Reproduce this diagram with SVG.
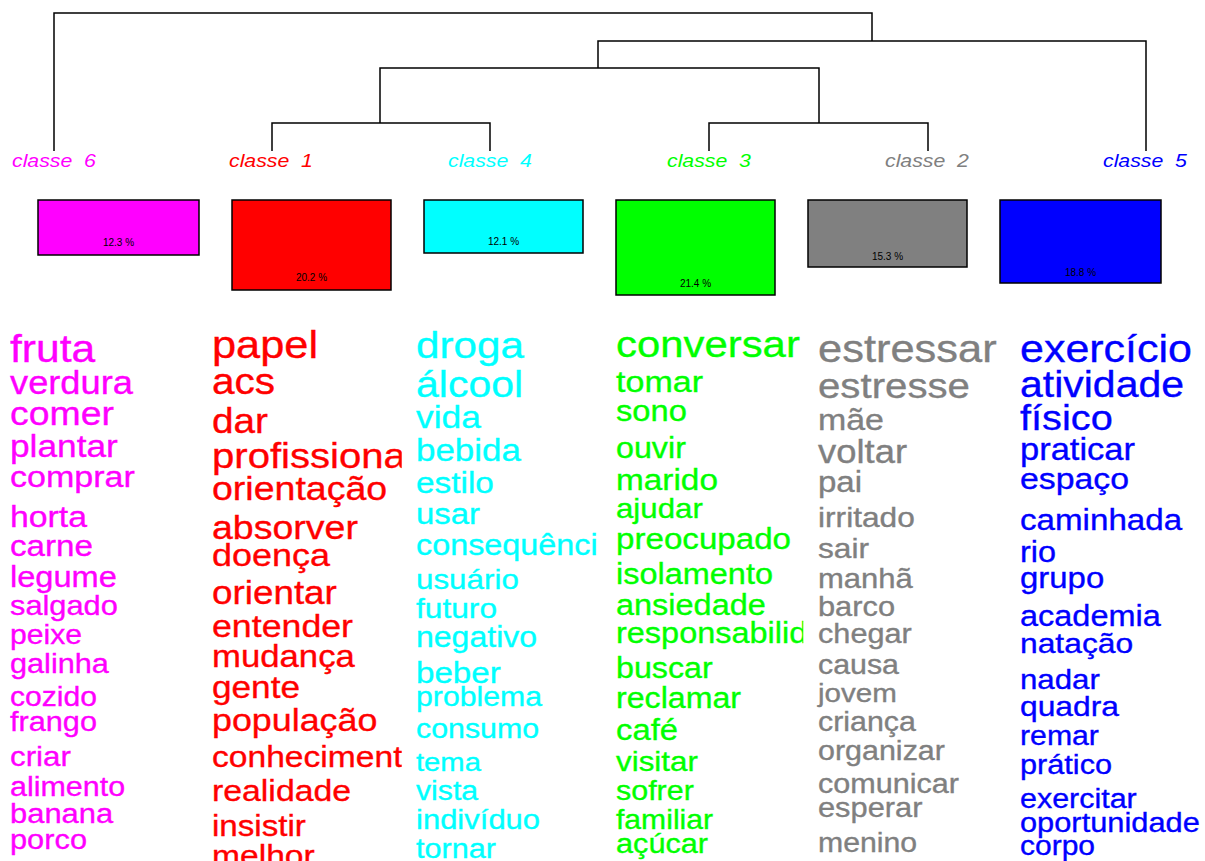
<svg xmlns="http://www.w3.org/2000/svg" width="1205" height="861" viewBox="0 0 1205 861">
<style>
text{font-family:"Liberation Sans",Arial,sans-serif}
.lbl{font-style:italic;font-size:19px}
.pct{font-size:10px;fill:#000;text-anchor:middle}
.box{stroke:#000;stroke-width:1.5}
.edge{fill:none;stroke:#000;stroke-width:1.5}
.w{stroke-width:0.35}
.c6{fill:#FF00FF}.c1{fill:#FF0000}.c4{fill:#00FFFF}.c3{fill:#00FF00}.c2{fill:#808080}.c5{fill:#0000FF}
.w.c6{stroke:#FF00FF}.w.c1{stroke:#FF0000}.w.c4{stroke:#00FFFF}.w.c3{stroke:#00FF00}.w.c2{stroke:#808080}.w.c5{stroke:#0000FF}
</style>
<defs>
<clipPath id="k1"><rect x="0" y="300" width="200.8" height="561"/></clipPath>
<clipPath id="k2"><rect x="200.8" y="300" width="200.9" height="561"/></clipPath>
<clipPath id="k3"><rect x="401.7" y="300" width="200.8" height="561"/></clipPath>
<clipPath id="k4"><rect x="602.5" y="300" width="200.8" height="561"/></clipPath>
<clipPath id="k5"><rect x="803.3" y="300" width="200.9" height="561"/></clipPath>
<clipPath id="k6"><rect x="1004.2" y="300" width="200.8" height="561"/></clipPath>
</defs>
<rect width="1205" height="861" fill="#fff"/>
<g id="connectors">
<path class="edge" d="M54,151V13H872V41M598,68V41H1146V151M380,123V68H819V123M272,151V123H490V151M709,151V123H928V151"/>
</g>
<g id="classe6">
<g transform="translate(12 0) scale(1.12 1)"><text class="lbl c6" x="0" y="167" xml:space="preserve">classe  6</text></g>
<rect class="box c6" x="38" y="200" width="161" height="55"/>
<text class="pct" x="118.5" y="246">12.3 %</text>
<g clip-path="url(#k1)"><g transform="translate(10 0) scale(1.12 1)" class="w c6">
<text x="0" y="362" font-size="38">fruta</text>
<text x="0" y="394" font-size="32.4">verdura</text>
<text x="0" y="425" font-size="33.4">comer</text>
<text x="0" y="457" font-size="31.5">plantar</text>
<text x="0" y="487" font-size="30.4">comprar</text>
<text x="0" y="527" font-size="30.2">horta</text>
<text x="0" y="556" font-size="29.6">carne</text>
<text x="0" y="587" font-size="29.1">legume</text>
<text x="0" y="615" font-size="27.5">salgado</text>
<text x="0" y="644" font-size="26.9">peixe</text>
<text x="0" y="673" font-size="27.4">galinha</text>
<text x="0" y="706" font-size="26.9">cozido</text>
<text x="0" y="731" font-size="27.4">frango</text>
<text x="0" y="766" font-size="28">criar</text>
<text x="0" y="796" font-size="27.2">alimento</text>
<text x="0" y="823" font-size="27.6">banana</text>
<text x="0" y="849" font-size="27.5">porco</text>
</g></g>
</g>
<g id="classe1">
<g transform="translate(229 0) scale(1.12 1)"><text class="lbl c1" x="0" y="167" xml:space="preserve">classe  1</text></g>
<rect class="box c1" x="232" y="200" width="159" height="90"/>
<text class="pct" x="311.5" y="281">20.2 %</text>
<g clip-path="url(#k2)"><g transform="translate(212 0) scale(1.12 1)" class="w c1">
<text x="0" y="358" font-size="38.7">papel</text>
<text x="0" y="394" font-size="36.2">acs</text>
<text x="0" y="433" font-size="34.6">dar</text>
<text x="0" y="468" font-size="35.8">profissiona</text>
<text x="0" y="500" font-size="33.5">orientação</text>
<text x="0" y="539" font-size="33.5">absorver</text>
<text x="0" y="566" font-size="32.1">doença</text>
<text x="0" y="604" font-size="32.9">orientar</text>
<text x="0" y="637" font-size="31.9">entender</text>
<text x="0" y="667" font-size="31">mudança</text>
<text x="0" y="698" font-size="31.4">gente</text>
<text x="0" y="731" font-size="32">população</text>
<text x="0" y="767" font-size="30">conheciment</text>
<text x="0" y="801" font-size="30.2">realidade</text>
<text x="0" y="836" font-size="29.6">insistir</text>
<text x="0" y="866" font-size="30">melhor</text>
</g></g>
</g>
<g id="classe4">
<g transform="translate(448 0) scale(1.12 1)"><text class="lbl c4" x="0" y="167" xml:space="preserve">classe  4</text></g>
<rect class="box c4" x="424" y="200" width="159" height="53"/>
<text class="pct" x="503.5" y="245">12.1 %</text>
<g clip-path="url(#k3)"><g transform="translate(416 0) scale(1.12 1)" class="w c4">
<text x="0" y="358" font-size="37.7">droga</text>
<text x="0" y="397" font-size="36.6">álcool</text>
<text x="0" y="428" font-size="31.6">vida</text>
<text x="0" y="461" font-size="31.2">bebida</text>
<text x="0" y="493" font-size="29.8">estilo</text>
<text x="0" y="524" font-size="29.4">usar</text>
<text x="0" y="555" font-size="28.9">consequênci</text>
<text x="0" y="589" font-size="28">usuário</text>
<text x="0" y="618" font-size="28.3">futuro</text>
<text x="0" y="647" font-size="28.6">negativo</text>
<text x="0" y="683" font-size="29.6">beber</text>
<text x="0" y="706" font-size="27">problema</text>
<text x="0" y="738" font-size="27.1">consumo</text>
<text x="0" y="771" font-size="26.1">tema</text>
<text x="0" y="800" font-size="27">vista</text>
<text x="0" y="829" font-size="27.7">indivíduo</text>
<text x="0" y="858" font-size="27.3">tornar</text>
</g></g>
</g>
<g id="classe3">
<g transform="translate(667 0) scale(1.12 1)"><text class="lbl c3" x="0" y="167" xml:space="preserve">classe  3</text></g>
<rect class="box c3" x="616" y="200" width="159" height="95"/>
<text class="pct" x="695.5" y="287">21.4 %</text>
<g clip-path="url(#k4)"><g transform="translate(616 0) scale(1.12 1)" class="w c3">
<text x="0" y="357" font-size="37.4">conversar</text>
<text x="0" y="392" font-size="30.4">tomar</text>
<text x="0" y="421" font-size="29.2">sono</text>
<text x="0" y="458" font-size="28.8">ouvir</text>
<text x="0" y="490" font-size="29.8">marido</text>
<text x="0" y="518" font-size="27.9">ajudar</text>
<text x="0" y="549" font-size="29.6">preocupado</text>
<text x="0" y="584" font-size="29">isolamento</text>
<text x="0" y="615" font-size="29">ansiedade</text>
<text x="0" y="643" font-size="29">responsabilid</text>
<text x="0" y="678" font-size="28.8">buscar</text>
<text x="0" y="708" font-size="28.7">reclamar</text>
<text x="0" y="740" font-size="29.3">café</text>
<text x="0" y="771" font-size="28">visitar</text>
<text x="0" y="800" font-size="27.2">sofrer</text>
<text x="0" y="829" font-size="26.9">familiar</text>
<text x="0" y="853" font-size="27.4">açúcar</text>
</g></g>
</g>
<g id="classe2">
<g transform="translate(885 0) scale(1.12 1)"><text class="lbl c2" x="0" y="167" xml:space="preserve">classe  2</text></g>
<rect class="box c2" x="808" y="200" width="159" height="67"/>
<text class="pct" x="887.5" y="260">15.3 %</text>
<g clip-path="url(#k5)"><g transform="translate(818 0) scale(1.12 1)" class="w c2">
<text x="0" y="362" font-size="38.8">estressar</text>
<text x="0" y="398" font-size="35.9">estresse</text>
<text x="0" y="430" font-size="30.3">mãe</text>
<text x="0" y="463" font-size="32.5">voltar</text>
<text x="0" y="492" font-size="29.5">pai</text>
<text x="0" y="527" font-size="28.3">irritado</text>
<text x="0" y="558" font-size="28.3">sair</text>
<text x="0" y="588" font-size="27.7">manhã</text>
<text x="0" y="616" font-size="27.5">barco</text>
<text x="0" y="643" font-size="27.4">chegar</text>
<text x="0" y="674" font-size="27.1">causa</text>
<text x="0" y="702" font-size="26.4">jovem</text>
<text x="0" y="731" font-size="27.1">criança</text>
<text x="0" y="760" font-size="27.2">organizar</text>
<text x="0" y="793" font-size="27.3">comunicar</text>
<text x="0" y="817" font-size="27.5">esperar</text>
<text x="0" y="852" font-size="27">menino</text>
</g></g>
</g>
<g id="classe5">
<g transform="translate(1103 0) scale(1.12 1)"><text class="lbl c5" x="0" y="167" xml:space="preserve">classe  5</text></g>
<rect class="box c5" x="1000" y="200" width="161" height="83"/>
<text class="pct" x="1080.5" y="276">18.8 %</text>
<g clip-path="url(#k6)"><g transform="translate(1020 0) scale(1.12 1)" class="w c5">
<text x="0" y="362" font-size="38.4">exercício</text>
<text x="0" y="397" font-size="36.6">atividade</text>
<text x="0" y="430" font-size="35.5">físico</text>
<text x="0" y="460" font-size="30.8">praticar</text>
<text x="0" y="489" font-size="30.2">espaço</text>
<text x="0" y="530" font-size="29.6">caminhada</text>
<text x="0" y="562" font-size="28.9">rio</text>
<text x="0" y="588" font-size="29.4">grupo</text>
<text x="0" y="626" font-size="29">academia</text>
<text x="0" y="653" font-size="28.4">natação</text>
<text x="0" y="689" font-size="27.9">nadar</text>
<text x="0" y="716" font-size="28.4">quadra</text>
<text x="0" y="745" font-size="27">remar</text>
<text x="0" y="774" font-size="27.4">prático</text>
<text x="0" y="808" font-size="27.2">exercitar</text>
<text x="0" y="832" font-size="27.5">oportunidade</text>
<text x="0" y="855" font-size="26.8">corpo</text>
</g></g>
</g>
</svg>
